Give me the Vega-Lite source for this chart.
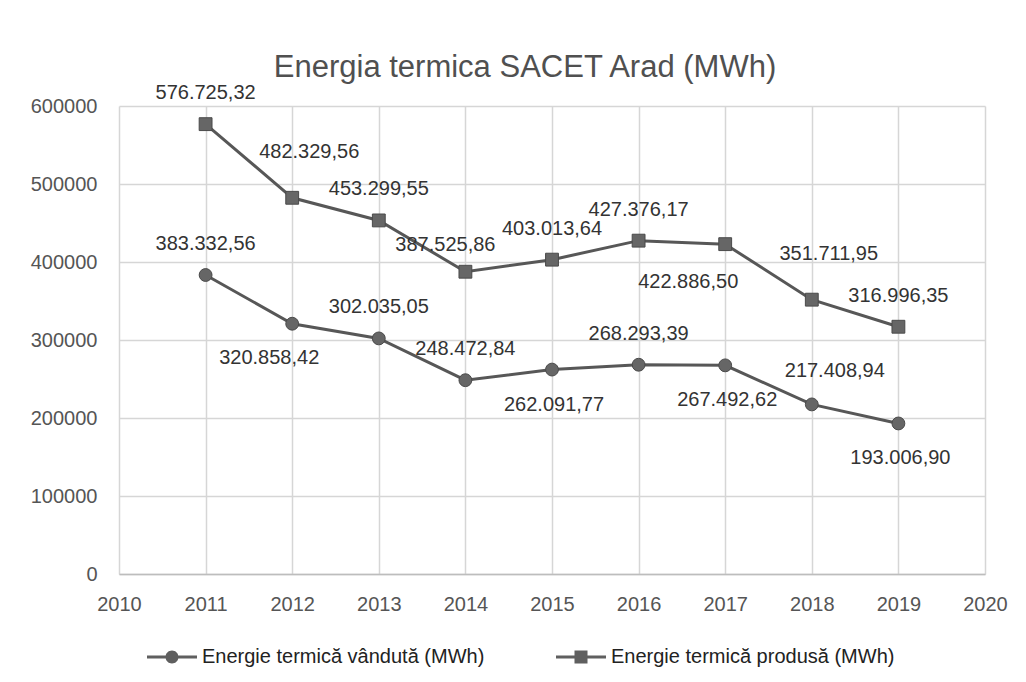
{
  "$schema": "https://vega.github.io/schema/vega-lite/v6.json",
  "autosize": "none",
  "width": 866,
  "height": 468,
  "padding": {"left": 119, "top": 106, "right": 41, "bottom": 108},
  "background": "white",
  "config": {
    "font": "Liberation Sans",
    "view": {"stroke": null},
    "locale": {"number": {"decimal": ",", "thousands": ".", "grouping": [3], "currency": ["", ""]}}
  },
  "title": {
    "text": "Energia termica SACET Arad (MWh)",
    "fontSize": 31,
    "fontWeight": "normal",
    "color": "#505050",
    "anchor": "middle",
    "frame": "group",
    "dx": -27,
    "dy": 25,
    "offset": 24
  },
  "data": {
    "values": [
      {"year": 2011, "series": "Energie termică vândută (MWh)", "value": 383332.56},
      {"year": 2012, "series": "Energie termică vândută (MWh)", "value": 320858.42},
      {"year": 2013, "series": "Energie termică vândută (MWh)", "value": 302035.05},
      {"year": 2014, "series": "Energie termică vândută (MWh)", "value": 248472.84},
      {"year": 2015, "series": "Energie termică vândută (MWh)", "value": 262091.77},
      {"year": 2016, "series": "Energie termică vândută (MWh)", "value": 268293.39},
      {"year": 2017, "series": "Energie termică vândută (MWh)", "value": 267492.62},
      {"year": 2018, "series": "Energie termică vândută (MWh)", "value": 217408.94},
      {"year": 2019, "series": "Energie termică vândută (MWh)", "value": 193006.90},
      {"year": 2011, "series": "Energie termică produsă (MWh)", "value": 576725.32},
      {"year": 2012, "series": "Energie termică produsă (MWh)", "value": 482329.56},
      {"year": 2013, "series": "Energie termică produsă (MWh)", "value": 453299.55},
      {"year": 2014, "series": "Energie termică produsă (MWh)", "value": 387525.86},
      {"year": 2015, "series": "Energie termică produsă (MWh)", "value": 403013.64},
      {"year": 2016, "series": "Energie termică produsă (MWh)", "value": 427376.17},
      {"year": 2017, "series": "Energie termică produsă (MWh)", "value": 422886.50},
      {"year": 2018, "series": "Energie termică produsă (MWh)", "value": 351711.95},
      {"year": 2019, "series": "Energie termică produsă (MWh)", "value": 316996.35}
    ]
  },
  "encoding": {
    "x": {
      "field": "year",
      "type": "quantitative",
      "scale": {"domain": [2010, 2020], "nice": false, "zero": false},
      "axis": {
        "title": null,
        "values": [2010, 2011, 2012, 2013, 2014, 2015, 2016, 2017, 2018, 2019, 2020],
        "format": "d",
        "grid": true,
        "gridColor": "#d6d6d6",
        "gridWidth": 1.5,
        "domainColor": "#bdbdbd",
        "domainWidth": 1.5,
        "ticks": false,
        "labelFontSize": 20,
        "labelColor": "#555555",
        "labelPadding": 20,
        "labelFlush": false
      }
    },
    "y": {
      "field": "value",
      "type": "quantitative",
      "scale": {"domain": [0, 600000], "nice": false},
      "axis": {
        "title": null,
        "values": [0, 100000, 200000, 300000, 400000, 500000, 600000],
        "format": "d",
        "grid": true,
        "gridColor": "#d6d6d6",
        "gridWidth": 1.5,
        "domain": false,
        "ticks": false,
        "labelFontSize": 20,
        "labelColor": "#555555",
        "labelPadding": 22
      }
    }
  },
  "layer": [
    {
      "mark": {"type": "line", "color": "#575757", "strokeWidth": 3},
      "encoding": {"detail": {"field": "series"}}
    },
    {
      "mark": {"type": "point", "filled": true, "size": 165, "color": "#666666", "stroke": "#4a4a4a", "strokeWidth": 1, "opacity": 1},
      "encoding": {
        "shape": {
          "field": "series",
          "scale": {"domain": ["Energie termică vândută (MWh)", "Energie termică produsă (MWh)"], "range": ["circle", "square"]},
          "legend": null
        }
      }
    },
    {
      "mark": {"type": "point", "filled": true, "color": "#5f5f5f", "opacity": 0},
      "encoding": {
        "shape": {
          "field": "series",
          "scale": {
            "domain": ["Energie termică vândută (MWh)", "Energie termică produsă (MWh)"],
            "range": [
              "M-1,-0.06H-0.24V0.06H-1ZM0.24,-0.06H1V0.06H0.24ZM-0.26,0A0.26,0.26,0,1,1,0.26,0A0.26,0.26,0,1,1,-0.26,0Z",
              "M-1,-0.06H-0.25V0.06H-1ZM0.25,-0.06H1V0.06H0.25ZM-0.26,-0.26H0.26V0.26H-0.26Z"
            ]
          },
          "legend": {
            "title": null,
            "orient": "none",
            "legendX": 28,
            "legendY": 526,
            "direction": "horizontal",
            "symbolSize": 2500,
            "symbolOpacity": 1,
            "symbolFillColor": "#5f5f5f",
            "symbolStrokeColor": "#5f5f5f",
            "symbolStrokeWidth": 0,
            "labelFontSize": 20,
            "labelColor": "#222222",
            "labelOffset": 5,
            "labelLimit": 400,
            "columnPadding": 71
          }
        }
      }
    },
    {
      "transform": [{"filter": "(datum.series == 'Energie termică produsă (MWh)' && indexof([2011, 2013, 2015, 2016, 2019], datum.year) >= 0) || (datum.series == 'Energie termică vândută (MWh)' && indexof([2011, 2013, 2014, 2016], datum.year) >= 0)"}],
      "mark": {"type": "text", "fontSize": 20, "color": "#333333", "dy": -31, "baseline": "middle", "align": "center"},
      "encoding": {"text": {"field": "value", "type": "quantitative", "format": ",.2f"}}
    },
    {
      "transform": [{"filter": "datum.series == 'Energie termică vândută (MWh)' && indexof([2015, 2017, 2019], datum.year) >= 0"}],
      "mark": {"type": "text", "fontSize": 20, "color": "#333333", "dx": 2, "dy": 35, "baseline": "middle", "align": "center"},
      "encoding": {"text": {"field": "value", "type": "quantitative", "format": ",.2f"}}
    },
    {
      "transform": [{"filter": "datum.series == 'Energie termică produsă (MWh)' && indexof([2012, 2018], datum.year) >= 0"}],
      "mark": {"type": "text", "fontSize": 20, "color": "#333333", "dx": 17, "dy": -46, "baseline": "middle", "align": "center"},
      "encoding": {"text": {"field": "value", "type": "quantitative", "format": ",.2f"}}
    },
    {
      "transform": [{"filter": "datum.series == 'Energie termică produsă (MWh)' && datum.year == 2014"}],
      "mark": {"type": "text", "fontSize": 20, "color": "#333333", "dx": -20, "dy": -27, "baseline": "middle", "align": "center"},
      "encoding": {"text": {"field": "value", "type": "quantitative", "format": ",.2f"}}
    },
    {
      "transform": [{"filter": "datum.series == 'Energie termică produsă (MWh)' && datum.year == 2017"}],
      "mark": {"type": "text", "fontSize": 20, "color": "#333333", "dx": -37, "dy": 38, "baseline": "middle", "align": "center"},
      "encoding": {"text": {"field": "value", "type": "quantitative", "format": ",.2f"}}
    },
    {
      "transform": [{"filter": "datum.series == 'Energie termică vândută (MWh)' && datum.year == 2012"}],
      "mark": {"type": "text", "fontSize": 20, "color": "#333333", "dx": -23, "dy": 34, "baseline": "middle", "align": "center"},
      "encoding": {"text": {"field": "value", "type": "quantitative", "format": ",.2f"}}
    },
    {
      "transform": [{"filter": "datum.series == 'Energie termică vândută (MWh)' && datum.year == 2018"}],
      "mark": {"type": "text", "fontSize": 20, "color": "#333333", "dx": 23, "dy": -33, "baseline": "middle", "align": "center"},
      "encoding": {"text": {"field": "value", "type": "quantitative", "format": ",.2f"}}
    }
  ],
  "resolve": {"scale": {"shape": "independent"}}
}
